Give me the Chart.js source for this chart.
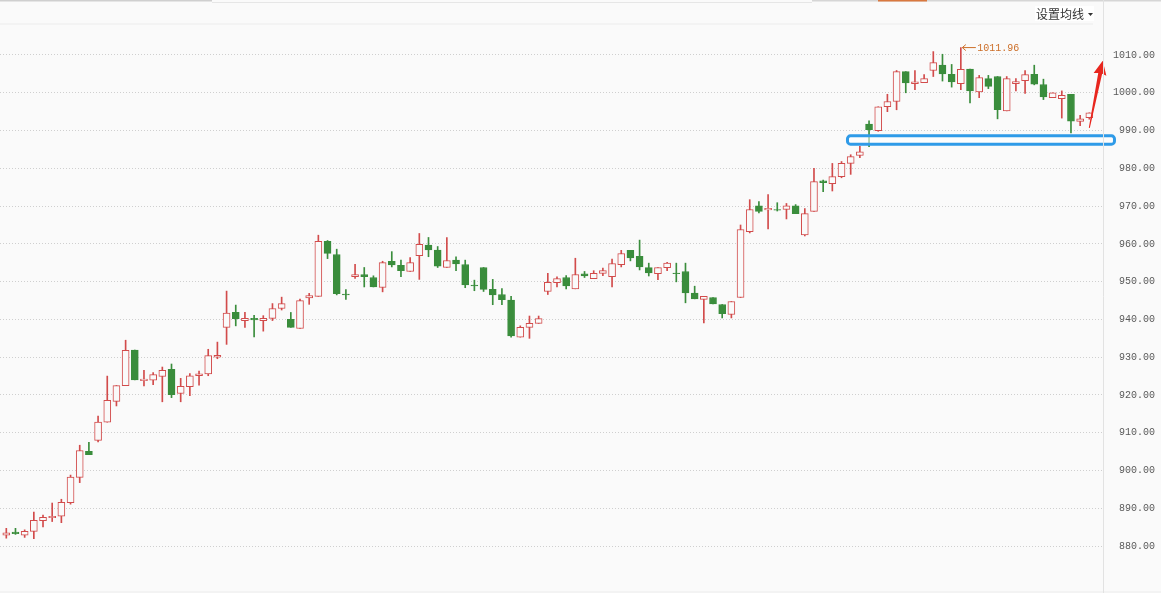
<!DOCTYPE html>
<html>
<head>
<meta charset="utf-8">
<script src="https://cdn.jsdelivr.net/npm/chart.js@4.4.0/dist/chart.umd.min.js"></script>
<style>
  html, body { margin: 0; padding: 0; background: #fafafa; }
  #wrap { width: 1161px; height: 593px; position: relative; }
</style>
</head>
<body>
<div id="wrap"><canvas id="kline"></canvas></div>
<script>
// daily OHLC
const opens = [
  882.9, 883.7, 882.9, 883.9, 886.7, 887.5, 887.9, 891.5, 898.2, 905.1,
  908.0, 912.8, 918.3, 922.5, 931.9, 923.8, 923.9, 924.9, 926.8, 920.4,
  922.2, 925.1, 925.6, 930.0, 937.9, 941.85, 939.7, 940.3, 939.7, 940.3,
  942.9, 940.0, 937.6, 945.7, 946.1, 960.7, 957.2, 946.7, 951.3, 951.9,
  951.1, 948.45, 955.35, 954.3, 952.7, 956.9, 959.65, 958.35, 953.75, 955.7,
  954.55, 949.1, 953.75, 947.95, 946.6, 945.15, 935.3, 937.9, 938.95, 947.4,
  949.7, 951.1, 948.1, 952.1, 950.8, 952.2, 951.3, 954.5, 958.3, 956.7,
  953.7, 952.1, 953.7, 952.25, 952.7, 946.95, 945.3, 945.8, 943.95, 941.3,
  945.8, 963.25, 970.1, 969.0, 969.1, 969.1, 970.1, 962.4, 968.6, 976.7,
  975.95, 977.8, 981.3, 983.4, 991.7, 990.0, 996.3, 997.7, 1005.6, 1002.4,
  1002.7, 1005.9, 1007.3, 1004.9, 1002.4, 1006.3, 1000.2, 1003.75, 1004.3, 995.2,
  1002.4, 1003.2, 1004.9, 1002.2, 998.7, 998.45, 999.6, 992.4, 993.4
];
const highs = [
  884.7, 884.7, 884.3, 889.0, 888.2, 891.4, 892.4, 898.8, 906.7, 907.5,
  914.4, 925.0, 922.5, 934.5, 931.9, 926.5, 925.9, 927.4, 928.2, 924.4,
  925.7, 926.3, 932.1, 934.0, 947.5, 943.8, 941.85, 941.1, 941.0, 944.2,
  945.9, 941.85, 945.4, 946.9, 962.3, 960.9, 958.6, 947.9, 954.6, 953.75,
  951.55, 955.4, 957.95, 955.7, 956.4, 962.75, 961.7, 959.3, 961.7, 956.6,
  955.7, 950.4, 953.75, 950.6, 948.2, 946.1, 938.3, 940.9, 940.9, 952.2,
  951.3, 951.6, 956.2, 952.7, 952.9, 953.6, 955.95, 958.3, 958.3, 961.0,
  954.9, 953.7, 955.1, 954.9, 954.9, 948.8, 946.1, 945.8, 943.95, 944.75,
  965.0, 971.7, 971.2, 973.05, 970.9, 970.7, 970.4, 969.35, 980.0, 976.9,
  981.3, 981.8, 983.6, 985.8, 992.6, 996.3, 999.6, 1005.9, 1005.6, 1005.9,
  1004.8, 1010.9, 1010.2, 1007.5, 1011.96, 1006.3, 1004.6, 1004.6, 1004.3, 1004.3,
  1003.75, 1005.9, 1007.3, 1003.6, 1000.0, 1000.5, 999.6, 994.0, 994.7
];
const lows = [
  882.1, 883.1, 882.3, 882.0, 885.1, 886.5, 886.2, 891.1, 896.8, 904.2,
  907.6, 912.8, 917.1, 922.5, 924.0, 922.4, 922.7, 918.2, 919.3, 918.2,
  919.8, 922.6, 925.1, 929.6, 933.4, 938.3, 937.9, 935.4, 936.9, 939.7,
  942.5, 937.9, 937.6, 944.0, 946.1, 956.1, 946.5, 945.3, 950.85, 948.6,
  948.6, 947.3, 953.9, 951.3, 952.7, 950.6, 956.6, 953.75, 953.75, 952.9,
  948.4, 947.6, 947.4, 943.9, 943.9, 935.3, 935.3, 935.0, 938.95, 946.6,
  948.6, 948.1, 948.1, 951.1, 950.8, 951.6, 948.6, 953.9, 955.5, 953.1,
  951.5, 950.5, 952.9, 949.95, 944.4, 945.45, 939.1, 944.1, 940.4, 940.4,
  945.8, 962.9, 968.2, 963.95, 968.7, 966.6, 968.0, 962.1, 968.6, 973.8,
  974.0, 977.5, 978.4, 982.8, 985.7, 989.8, 995.0, 995.5, 1000.0, 1000.8,
  1002.7, 1004.3, 1003.1, 1001.5, 1000.8, 997.3, 998.7, 1001.1, 993.1, 995.2,
  1000.5, 999.8, 1002.1, 998.2, 998.7, 993.3, 989.4, 991.3, 993.0
];
const closes = [
  883.5, 883.3, 883.9, 886.8, 887.6, 887.9, 891.6, 898.3, 905.3, 904.2,
  912.8, 918.6, 922.5, 931.8, 924.0, 924.2, 925.4, 926.5, 920.1, 922.3,
  925.1, 925.6, 930.4, 930.5, 941.7, 940.2, 940.3, 939.9, 940.3, 942.9,
  944.2, 937.9, 945.0, 946.3, 960.7, 957.5, 946.8, 946.5, 951.9, 951.3,
  948.6, 955.05, 954.45, 952.9, 955.05, 959.85, 958.4, 954.1, 955.6, 954.7,
  949.15, 948.9, 947.95, 946.5, 945.2, 935.65, 937.9, 938.95, 940.2, 949.8,
  950.8, 948.9, 951.9, 951.5, 952.2, 952.9, 954.8, 957.45, 956.3, 953.9,
  952.3, 953.7, 954.9, 952.1, 947.0, 945.45, 946.1, 944.1, 941.5, 944.75,
  963.8, 969.1, 968.6, 969.4, 968.9, 970.1, 968.0, 968.0, 976.5, 976.2,
  977.8, 981.3, 983.1, 984.4, 990.2, 996.3, 997.7, 1005.6, 1002.6, 1002.9,
  1003.75, 1008.0, 1005.0, 1002.9, 1006.2, 1000.5, 1004.0, 1001.7, 995.5, 1003.75,
  1002.95, 1004.8, 1002.3, 998.9, 1000.0, 999.3, 992.45, 993.1, 994.7
];
const yTickValues = [880, 890, 900, 910, 920, 930, 940, 950, 960, 970, 980, 990, 1000, 1010];

// hand drawn marks on the screenshot (candle index / price)
const supportBox = { x0: 92.65, x1: 121.74, y0: 986.4, y1: 988.6 };
const upArrow = { x0: 119, y0: 990.7, x1: 120.46, y1: 1008.5 };

const UP = '#d24b4b';
const DOWN = '#3a8d3c';
const BG = '#fafafa';

const dayIndex = opens.map((_, i) => i + 1);
const isUp = dayIndex.map((_, i) => closes[i] >= opens[i]);
const candleColors = isUp.map(u => u ? UP : DOWN);

const chromePlugin = {
  id: 'chrome',
  beforeDraw(chart) {
    const c = chart.ctx;
    const area = chart.chartArea;
    c.save();
    c.fillStyle = BG;
    c.fillRect(0, 0, chart.width, chart.height);
    // tab strip on top
    c.fillStyle = '#cfcfcf';
    c.fillRect(0, 0, 212, 1.5);
    c.fillStyle = '#e6e6e6';
    c.fillRect(212, 2, 600, 1);
    c.fillStyle = '#d6d6d6';
    c.fillRect(812, 0, chart.width - 812, 1.5);
    c.fillStyle = '#d9783f';
    c.fillRect(878, 0, 49, 1.5);
    c.fillStyle = '#ebebeb';
    c.fillRect(0, 23.5, area.right - 10, 1);
    c.fillRect(0, chart.height - 1.5, chart.width, 1);
    // 设置均线 dropdown
    c.fillStyle = '#ffffff';
    c.fillRect(1035, 6, 59, 15);
    c.fillStyle = '#333';
    c.font = '12px "Noto Sans CJK SC"';
    c.textBaseline = 'middle';
    c.textAlign = 'left';
    c.fillText('设置均线', 1036, 14);
    c.beginPath();
    c.moveTo(1088, 13);
    c.lineTo(1093, 13);
    c.lineTo(1090.5, 16);
    c.closePath();
    c.fill();
    c.restore();
  },
  afterDraw(chart) {
    const c = chart.ctx;
    const x = Math.round(chart.chartArea.right) + 0.5;
    c.save();
    c.strokeStyle = '#e2e2e2';
    c.lineWidth = 1;
    c.beginPath();
    c.moveTo(x, 0);
    c.lineTo(x, chart.height);
    c.stroke();
    c.restore();
  }
};

function drawArrow(c, x0, y0, x1, y1) {
  const dx = x1 - x0, dy = y1 - y0, len = Math.hypot(dx, dy);
  const ux = dx / len, uy = dy / len, nx = -uy, ny = ux;
  const headLen = 13, headHalf = 6.5;
  const bx = x1 - ux * headLen, by = y1 - uy * headLen;
  c.beginPath();
  c.moveTo(x0 + nx * 0.5, y0 + ny * 0.5);
  c.lineTo(bx + nx * 2, by + ny * 2);
  c.lineTo(bx - ux * 1 + nx * headHalf, by - uy * 1 + ny * headHalf);
  c.lineTo(x1, y1);
  c.lineTo(bx - ux * 1 - nx * headHalf, by - uy * 1 - ny * headHalf);
  c.lineTo(bx - nx * 2, by - ny * 2);
  c.lineTo(x0 - nx * 0.5, y0 - ny * 0.5);
  c.closePath();
  c.fill();
}

const overlayPlugin = {
  id: 'overlay',
  afterDatasetsDraw(chart) {
    const c = chart.ctx;
    const xs = chart.scales.x, ys = chart.scales.y;

    // highest price marker
    let top = 0;
    highs.forEach((h, i) => { if (h > highs[top]) top = i; });
    const mx = xs.getPixelForValue(dayIndex[top]);
    const my = ys.getPixelForValue(highs[top]);
    c.save();
    c.strokeStyle = '#cc6e28';
    c.fillStyle = '#cc6e28';
    c.lineWidth = 1;
    c.beginPath();
    c.moveTo(mx + 1.5, my);
    c.lineTo(mx + 15, my);
    c.moveTo(mx + 5, my - 3);
    c.lineTo(mx + 1.5, my);
    c.lineTo(mx + 5, my + 3);
    c.stroke();
    c.font = '10px "Liberation Mono"';
    c.textBaseline = 'middle';
    c.textAlign = 'left';
    c.fillText(highs[top].toFixed(2), mx + 16.5, my + 0.5);

    // blue support box
    const bx0 = xs.getPixelForValue(supportBox.x0), bx1 = xs.getPixelForValue(supportBox.x1);
    const by0 = ys.getPixelForValue(supportBox.y1), by1 = ys.getPixelForValue(supportBox.y0);
    c.beginPath();
    c.roundRect(bx0, by0, bx1 - bx0, by1 - by0, 3);
    c.fillStyle = 'rgba(255,255,255,0.55)';
    c.fill();
    c.strokeStyle = '#2f9be8';
    c.lineWidth = 3;
    c.stroke();

    // red arrow
    c.fillStyle = '#e8261e';
    drawArrow(c,
      xs.getPixelForValue(upArrow.x0), ys.getPixelForValue(upArrow.y0),
      xs.getPixelForValue(upArrow.x1), ys.getPixelForValue(upArrow.y1));
    c.restore();
  }
};

const ctx = document.getElementById('kline');
new Chart(ctx, {
  type: 'bar',
  data: {
    datasets: [
      {
        label: 'wick',
        data: dayIndex.map((d, i) => ({ x: d, y: [lows[i], highs[i]] })),
        backgroundColor: candleColors,
        barThickness: 1,
        order: 2
      },
      {
        label: 'body',
        data: dayIndex.map((d, i) => ({ x: d, y: [opens[i], closes[i]] })),
        backgroundColor: isUp.map(u => u ? BG : DOWN),
        borderColor: candleColors,
        borderWidth: 1,
        borderSkipped: false,
        barThickness: 7,
        order: 1
      }
    ]
  },
  options: {
    responsive: true,
    maintainAspectRatio: false,
    animation: false,
    devicePixelRatio: 1,
    layout: { padding: { top: 25, bottom: 1, left: 0, right: 6 } },
    datasets: { bar: { grouped: false } },
    plugins: { legend: { display: false }, tooltip: { enabled: false } },
    scales: {
      x: { type: 'linear', offset: false, min: 0.3136, max: 120.49, display: false },
      y: {
        position: 'right',
        min: 867.85,
        max: 1017.94,
        afterBuildTicks: scale => { scale.ticks = yTickValues.map(v => ({ value: v })); },
        afterFit: scale => {
          scale.width = 52;
          scale.paddingTop = 0;
          scale.paddingBottom = 0;
        },
        grid: { color: '#cfcfcf', drawTicks: false },
        border: { display: false, dash: [1, 2] },
        ticks: {
          crossAlign: 'far',
          padding: 4,
          color: '#5a5a5a',
          font: { family: 'Liberation Mono', size: 10 },
          callback: v => Number(v).toFixed(2)
        }
      }
    }
  },
  plugins: [chromePlugin, overlayPlugin]
});
</script>
</body>
</html>
